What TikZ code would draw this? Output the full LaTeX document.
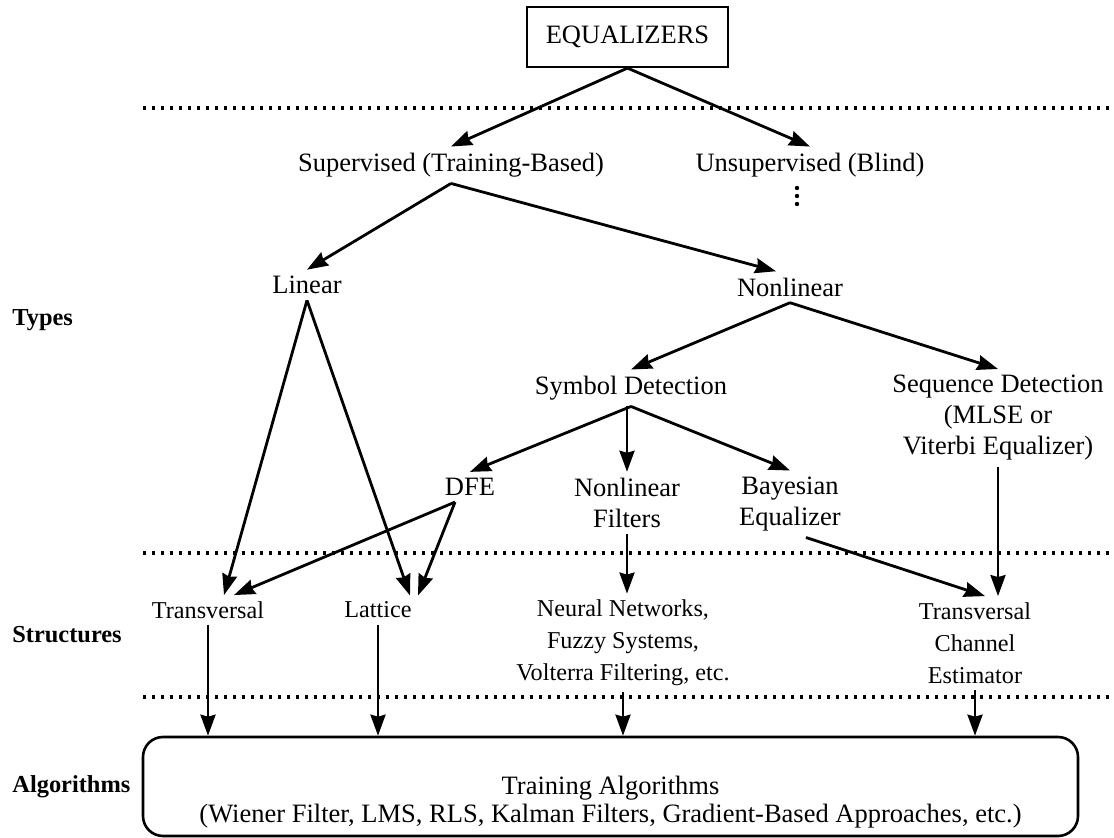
\documentclass[tikz,border=0pt]{standalone}
\usepackage{fontspec}
\setmainfont{Liberation Serif}
\usetikzlibrary{arrows.meta,positioning,calc}

\begin{document}
\begin{tikzpicture}[
    x=0.5pt, y=-0.5pt,
    every node/.style={font=\fontsize{13.25}{15.5}\selectfont, inner sep=3pt},
    small/.style={font=\fontsize{12.1}{16}\selectfont, align=center},
    level/.style={font=\fontsize{12.2}{14}\bfseries\selectfont, anchor=west, inner sep=0pt},
    topbox/.style={draw, line width=1.1pt, minimum width=100.5pt, minimum height=30pt},
    algobox/.style={draw, line width=1.3pt, rounded corners=10pt,
                    minimum width=467.5pt, minimum height=49.5pt},
    arr/.style={-{Stealth[length=10.5pt,width=7.5pt,inset=1pt]}, line width=1.4pt},
    sep/.style={line width=1.6pt, dash pattern=on 1.5pt off 3pt}
]
    \useasboundingbox (0,0) rectangle (1114,838);

    % levels
    \draw[sep] (143,108) -- (1114,108);
    \draw[sep] (143,553) -- (1114,553);
    \draw[sep] (143,697) -- (1114,697);

    \node[level] (types) at (12,320) {Types};
    \node[level] (structures) at (12,635) {Structures};
    \node[level] (algorithms) at (12,787) {Algorithms};

    % types
    \node[topbox] (eq) at (627.5,37) {EQUALIZERS};
    \node (sup) at (451,165) {Supervised (Training-Based)};
    \node (unsup) at (810,165) {Unsupervised (Blind)};
    \coordinate (more) at (797,196);
    \foreach \dy in {-8,0,8}
        \fill ($(more)+(0,\dy)$) circle (1.1pt);
    \node (linear) at (307,285) {Linear};
    \node (nonlin) at (790,287) {Nonlinear};
    \node (symb) at (631,388) {Symbol Detection};
    \node[align=center] (seq) at (998,418) {Sequence Detection\\(MLSE or\\Viterbi Equalizer)};
    \node (dfe) at (470,487) {DFE};
    \node[align=center] (nlf) at (627,503) {Nonlinear\\Filters};
    \node[align=center] (bayes) at (790,504) {Bayesian\\Equalizer};

    % structures
    \node[small] (trans) at (208,610) {Transversal};
    \node[small] (lattice) at (378,610) {Lattice};
    \node[small] (neural) at (623,643) {Neural Networks,\\Fuzzy Systems,\\Volterra Filtering, etc.};
    \node[small] (chan) at (975,643) {Transversal\\Channel\\Estimator};

    % algorithms
    \node[algobox] (algo) at (610.5,786.5) {};
    \node[align=center, font=\fontsize{13.25}{14}\selectfont] (algotext) at ([yshift=-8pt]algo.center)
        {Training Algorithms\\(Wiener Filter, LMS, RLS, Kalman Filters, Gradient-Based Approaches, etc.)};

    \draw[arr] (eq.south) -- (sup.north);
    \draw[arr] (eq.south) -- (unsup.north);
    \draw[arr] (sup.south) -- (linear.north);
    \draw[arr] (sup.south) -- ([xshift=-7pt]nonlin.north);
    \draw[arr] (nonlin.south) -- (symb.north);
    \draw[arr] (nonlin.south) -- (seq.north);
    \draw[arr] (symb.south) -- (dfe.north);
    \draw[arr] (nlf.north |- symb.south) -- (nlf.north);
    \draw[arr] (symb.south) -- (bayes.north);
    \draw[arr] (linear.south) -- ([xshift=8pt]trans.north);
    \draw[arr] (linear.south) -- ([xshift=-4pt]lattice.north east);
    \draw[arr] ([xshift=-7.5pt]dfe.south) -- ([xshift=13pt]trans.north);
    \draw[arr] ([xshift=-7.5pt]dfe.south) -- (lattice.north east);
    \draw[arr] (nlf.south) -- (nlf.south |- neural.north);
    \draw[arr] ([xshift=8pt]bayes.south) -- ([xshift=5pt]chan.north);
    \draw[arr] (seq.south) -- (seq.south |- chan.north);

    \draw[arr] (trans.south) -- (trans.south |- algo.north);
    \draw[arr] (lattice.south) -- (lattice.south |- algo.north);
    \draw[arr] (neural.south) -- (neural.south |- algo.north);
    \draw[arr] (chan.south) -- (chan.south |- algo.north);
\end{tikzpicture}
\end{document}
